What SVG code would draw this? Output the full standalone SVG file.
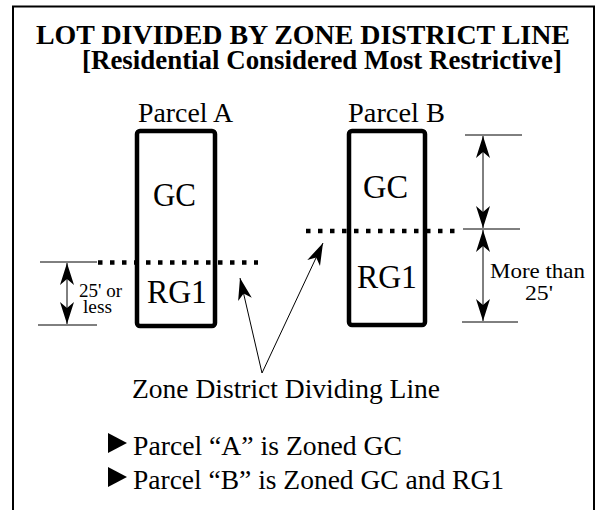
<svg xmlns="http://www.w3.org/2000/svg" width="597" height="510" viewBox="0 0 597 510" font-family="'Liberation Serif', 'Times New Roman', Times, serif">
  <style>
    text { font-family: "Liberation Serif", "Times New Roman", Times, serif; fill: #000; }
    .title { font-weight: bold; font-size: 27px; }
    .lbl { font-size: 28px; }
    .zone { font-size: 33px; }
    .dim { stroke: #000; stroke-width: 1; fill: none; }
    .parcel { fill: none; stroke: #000; stroke-width: 4.5; }
    .zoneline { stroke: #000; stroke-width: 4.5; stroke-dasharray: 4.5 7.5; fill: none; }
  </style>
  <defs>
    <marker id="arrow" markerUnits="userSpaceOnUse" markerWidth="24" markerHeight="16" viewBox="-23 -8 24 16" refX="0" refY="0" orient="auto-start-reverse">
      <path d="M0,0 L-22,-7 L-16,0 L-22,7 Z" fill="#000"/>
    </marker>
  </defs>

  <rect width="597" height="510" fill="#fff"/>

  <!-- frame, open at the bottom -->
  <path d="M13,510 V6.5 H594 V510" fill="none" stroke="#000" stroke-width="2"/>

  <g id="title">
    <text class="title" x="36" y="44" textLength="534" lengthAdjust="spacingAndGlyphs">LOT DIVIDED BY ZONE DISTRICT LINE</text>
    <text class="title" x="82" y="69" textLength="480" lengthAdjust="spacingAndGlyphs">[Residential Considered Most Restrictive]</text>
  </g>

  <g id="parcel-a">
    <text class="lbl" x="138" y="122" textLength="95" lengthAdjust="spacingAndGlyphs">Parcel A</text>
    <rect class="parcel" x="137" y="131" width="78" height="195" rx="3"/>
    <text class="zone" x="153" y="206" textLength="43" lengthAdjust="spacingAndGlyphs">GC</text>
    <text class="zone" x="147" y="303" textLength="60" lengthAdjust="spacingAndGlyphs">RG1</text>
  </g>

  <g id="parcel-b">
    <text class="lbl" x="348" y="122" textLength="97" lengthAdjust="spacingAndGlyphs">Parcel B</text>
    <rect class="parcel" x="349" y="131" width="76" height="194" rx="3"/>
    <text class="zone" x="363" y="198" textLength="45" lengthAdjust="spacingAndGlyphs">GC</text>
    <text class="zone" x="357" y="288" textLength="60" lengthAdjust="spacingAndGlyphs">RG1</text>
  </g>

  <g id="dim-a">
    <line class="dim" x1="40" y1="262" x2="97" y2="262"/>
    <line class="dim" x1="38" y1="325" x2="97" y2="325"/>
    <text x="79" y="297" font-size="19" textLength="43" lengthAdjust="spacingAndGlyphs">25' or</text>
    <text x="83" y="313" font-size="19" textLength="29" lengthAdjust="spacingAndGlyphs">less</text>
  </g>

  <g id="dim-b">
    <line class="dim" x1="465" y1="135" x2="522" y2="135"/>
    <line class="dim" x1="463" y1="229" x2="520" y2="229"/>
    <line class="dim" x1="462" y1="322" x2="518" y2="322"/>
    <text x="490" y="278" font-size="22" textLength="95" lengthAdjust="spacingAndGlyphs">More than</text>
    <text x="525" y="300" font-size="22" textLength="28" lengthAdjust="spacingAndGlyphs">25'</text>
  </g>

  <g id="zone-line-label">
    <text x="132" y="398" font-size="27.5" textLength="308" lengthAdjust="spacingAndGlyphs">Zone District Dividing Line</text>
  </g>

  <g id="notes">
    <path d="M108,433 L127,443 L108,453 Z" fill="#000"/>
    <text x="133" y="455" font-size="27.5" textLength="269" lengthAdjust="spacingAndGlyphs">Parcel “A” is Zoned GC</text>
    <path d="M108,467 L127,477 L108,487 Z" fill="#000"/>
    <text x="133" y="489" font-size="27.5" textLength="371" lengthAdjust="spacingAndGlyphs">Parcel “B” is Zoned GC and RG1</text>
  </g>

  <g id="connectors">
    <!-- zone district dividing lines -->
    <line class="zoneline" x1="98" y1="262.5" x2="258" y2="262.5"/>
    <line class="zoneline" x1="306" y1="231" x2="458" y2="231"/>
    <!-- dimension arrows -->
    <line class="dim" x1="67" y1="263" x2="67" y2="324" marker-start="url(#arrow)" marker-end="url(#arrow)"/>
    <line class="dim" x1="483" y1="136" x2="483" y2="228" marker-start="url(#arrow)" marker-end="url(#arrow)"/>
    <line class="dim" x1="483" y1="230" x2="483" y2="321" marker-start="url(#arrow)" marker-end="url(#arrow)"/>
    <!-- leaders from the label to the dividing lines -->
    <line class="dim" x1="262" y1="373" x2="240" y2="278" marker-end="url(#arrow)"/>
    <line class="dim" x1="262" y1="373" x2="323" y2="243" marker-end="url(#arrow)"/>
  </g>
</svg>
